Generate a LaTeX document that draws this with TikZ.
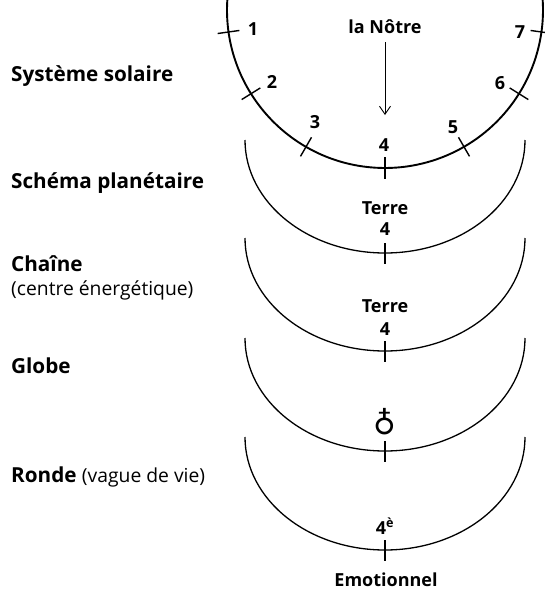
\documentclass[tikz,border=0pt]{standalone}
\usepackage{fontspec}
\setmainfont{Open Sans}
\newfontfamily\symfont{DejaVu Sans}
\usetikzlibrary{arrows.meta,calc}

\begin{document}
\begin{tikzpicture}[x=1pt,y=1pt,
  big/.style={font=\fontsize{18}{20}\selectfont\bfseries, inner sep=0pt},
  level/.style={font=\fontsize{20.7}{23}\selectfont\bfseries, inner sep=0pt, anchor=base west},
  levelsub/.style={font=\fontsize{19.3}{22}\selectfont, inner sep=0pt, anchor=base west},
  num/.style={big, anchor=center},
  midlab/.style={big, anchor=base},
  orbit/.style={line width=1.3pt},
  solar/.style={line width=1.9pt},
  tickmark/.style={line width=1.4pt},
]
\useasboundingbox (0,0) rectangle (545,-590);

% level names on the left
\node[level] (sys)   at (11,-81)  {Système solaire};
\node[level] (plan)  at (11,-188) {Schéma planétaire};
\node[level] (chain) at (11,-271) {Chaîne};
\node[levelsub] (chainsub) at (11,-295) {(centre énergétique)};
\node[level] (globe) at (11,-373) {Globe};
\node[level] (round) at (11,-482) {Ronde \fontsize{19.3}{22}\selectfont\mdseries(vague de vie)};

% solar system: the seven schemes on one large arc
\coordinate (sun) at (385,-10);
\draw[solar] ($(sun)+(176.4:158)$) arc[start angle=176.4, end angle=363.6, radius=158];
\foreach \a in {188,212,240,270,300,328,352}
  \draw[tickmark] ($(sun)+(\a:147)$) -- ($(sun)+(\a:169)$);

\node[num] (s1) at (253,-29)  {1};
\node[num] (s2) at (272,-82)  {2};
\node[num] (s3) at (315,-122) {3};
\node[num] (s4) at (384,-145) {4};
\node[num] (s5) at (453,-127) {5};
\node[num] (s6) at (500,-83)  {6};
\node[num] (s7) at (520,-32)  {7};

\node[midlab] (notre) at (385,-33) {la Nôtre};
\coordinate (notretip) at (385,-115);
\draw[line width=0.9pt, -{Straight Barb[length=8pt, width=11pt, line width=0.9pt]}] (notre.south) ++(0,-9) coordinate (notretail) -- (notretip);

% the four nested cycles below
\foreach \t in {140,238,338,437} {
  \draw[orbit] (245,-\t) arc[start angle=180, end angle=360, x radius=140, y radius=113];
  \draw[tickmark] (385,-\t-103) -- (385,-\t-124);
}

\node[midlab] (terre1) at (385,-214) {Terre};
\node[midlab] (four1)  at (385,-235) {4};
\node[midlab] (terre2) at (385,-312) {Terre};
\node[midlab] (four2)  at (385,-335) {4};
\node[anchor=center, inner sep=0pt, font=\symfont\bfseries\fontsize{31}{33}\selectfont] (earth) at (385,-422) {♁};
\node[midlab] (four3)  at (385,-534) {4\textsuperscript{è}};
\node[midlab] (emo)    at (386,-586) {Emotionnel};
\end{tikzpicture}
\end{document}
